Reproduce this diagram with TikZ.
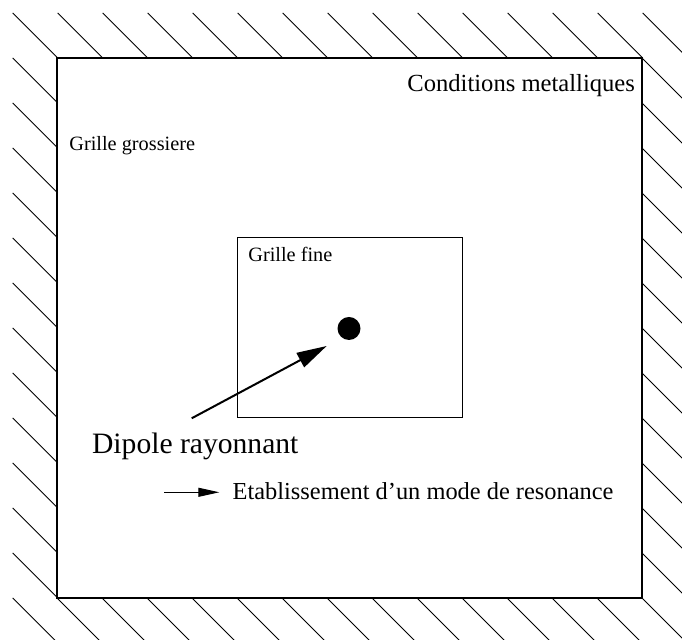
\documentclass[tikz,border=0pt]{standalone}
\usepackage{fontspec}
\setmainfont{Liberation Serif}
\usetikzlibrary{arrows.meta}
\tikzset{
  hatch/.style={line width=0.5pt},
  txt/.style={inner sep=0pt, anchor=base west},
}

\begin{document}
\begin{tikzpicture}[x=0.5pt,y=-0.5pt]
\useasboundingbox (0,0) rectangle (682,640);
\clip (0,0) rectangle (682,640);
% hachures du bord metallique
\foreach \k in {0,...,14} \draw[hatch] (12.7+45*\k,13) -- ++(45,45);
\foreach \k in {1,...,12} \draw[hatch] (12.7,13+45*\k) -- ++(45,45);
\foreach \k in {0,...,12} \draw[hatch] (642,58+45*\k) -- ++(45,45);
\foreach \k in {0,...,12} \draw[hatch] (57+45*\k,598) -- ++(45,45);
\draw[hatch] (12.7,598) -- ++(45,45);
% grilles
\draw[line width=1pt] (57,58) rectangle (642,598);
\draw[line width=0.5pt] (237,238) rectangle (462,418);
\node[txt, font=\fontsize{12.3}{14}\selectfont] (metal) at (407,91.7) {Conditions metalliques};
\node[txt, font=\fontsize{10.15}{12}\selectfont] (grossiere) at (69,151) {Grille grossiere};
\node[txt, font=\fontsize{10.15}{12}\selectfont] (fine) at (248,261.7) {Grille fine};
% dipole
\node[circle, fill, inner sep=0pt, minimum size=11.5pt] (dipole) at (349,328.5) {};
\coordinate (tail) at (191.7,418.3);
\coordinate (tip) at (326.7,346);
\draw[line width=1pt, -{Triangle[length=15pt,width=8pt]}] (tail) -- (tip);
\node[txt, font=\fontsize{14.8}{18}\selectfont] (dipolelabel) at (91.7,453.3) {Dipole rayonnant};
% legende
\coordinate (legstart) at (164,492.3);
\coordinate (legend) at (219.3,492.3);
\draw[line width=0.5pt, -{Triangle[length=10.5pt,width=4.5pt]}] (legstart) -- (legend);
\node[txt, font=\fontsize{12.2}{14}\selectfont] (modelabel) at (232.3,500) {Etablissement d’un mode de resonance};
\end{tikzpicture}
\end{document}
